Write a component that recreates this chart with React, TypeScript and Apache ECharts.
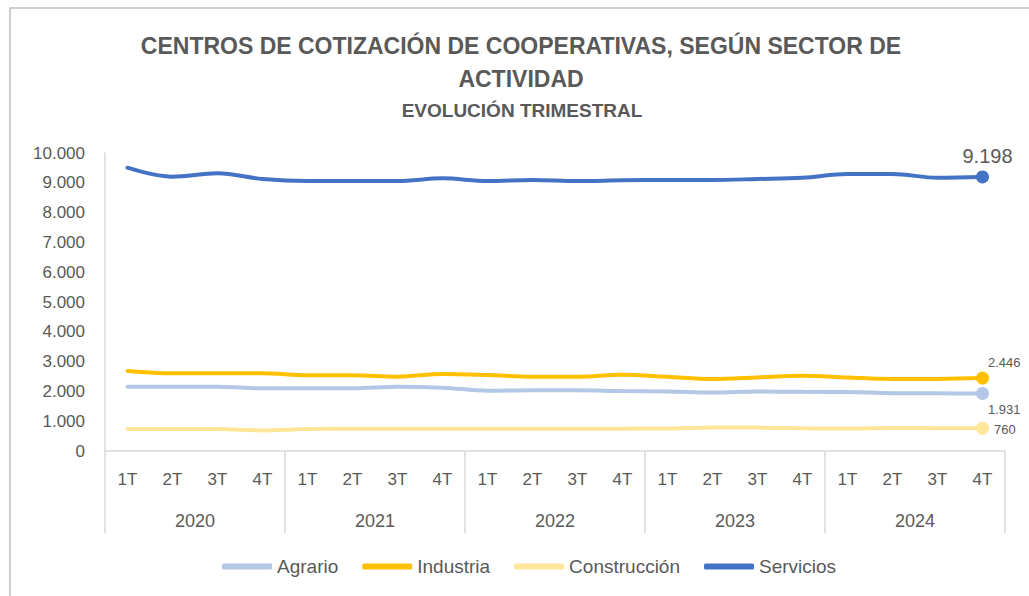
import React, { useEffect, useRef } from "react";
import * as echarts from "echarts";

const quarters = ["1T", "2T", "3T", "4T", "1T", "2T", "3T", "4T", "1T", "2T", "3T", "4T", "1T", "2T", "3T", "4T", "1T", "2T", "3T", "4T"];
const years = ["2020", "2021", "2022", "2023", "2024"];
const yTicks = { min: 0, max: 10000, interval: 1000 };

const agrario = [2158, 2158, 2158, 2103, 2103, 2103, 2158, 2125, 2025, 2040, 2040, 2010, 1995, 1960, 2000, 1985, 1980, 1940, 1935, 1931];
const industria = [2685, 2607, 2607, 2607, 2540, 2540, 2494, 2584, 2550, 2494, 2494, 2560, 2490, 2416, 2470, 2528, 2470, 2420, 2420, 2446];
const construccion = [740, 740, 735, 690, 740, 745, 745, 745, 745, 745, 745, 750, 755, 790, 785, 760, 755, 775, 765, 760];
const servicios = [9507, 9205, 9318, 9128, 9060, 9060, 9060, 9150, 9060, 9094, 9060, 9083, 9094, 9094, 9128, 9170, 9295, 9295, 9170, 9198];

const FONT = "'Liberation Sans', Arial, sans-serif";
const TXT = "#595959";

const fmt = (v: number) => {
  const s = String(Math.round(v));
  return s.replace(/\B(?=(\d{3})+(?!\d))/g, ".");
};

export default function App() {
  const ref = useRef<HTMLDivElement>(null);
  useEffect(() => {
    document.body.style.margin = "0";
    const chart = echarts.init(ref.current!, null, { renderer: "svg" });
    const last = quarters.length - 1;
    const mk = (
      name: string,
      values: number[],
      color: string,
      label: any
    ) => ({
      name,
      type: "line",
      xAxisIndex: 0,
      smooth: 0.35,
      color,
      lineStyle: { width: 4, color, cap: "round" },
      symbol: "circle",
      symbolSize: (_v: any, p: any) => (p.dataIndex === last ? 13 : 0),
      showSymbol: true,
      itemStyle: { color },
      data: values.map((v, i) =>
        i === last ? { value: v, label: { show: true, ...label } } : v
      ),
      label: { show: false },
      emphasis: { disabled: true },
      z: 2,
    });
    chart.setOption({
      animation: false,
      backgroundColor: "#ffffff",
      textStyle: { fontFamily: FONT },
      graphic: [
        {
          type: "rect",
          shape: { x: 10, y: 8, width: 1100, height: 700 },
          style: { fill: "none", stroke: "#bfbfbf", lineWidth: 1.5 },
          silent: true,
        },
      ],
      title: [
        {
          text: "CENTROS DE COTIZACIÓN DE COOPERATIVAS, SEGÚN SECTOR DE\nACTIVIDAD",
          left: 516,
          top: 24,
          textAlign: "center",
          textStyle: {
            fontFamily: FONT,
            fontSize: 23,
            fontWeight: "bold",
            color: TXT,
            lineHeight: 33,
          },
        },
        {
          text: "EVOLUCIÓN TRIMESTRAL",
          left: 517,
          top: 96,
          textAlign: "center",
          textStyle: {
            fontFamily: FONT,
            fontSize: 19,
            fontWeight: "bold",
            color: TXT,
          },
        },
      ],
      legend: {
        left: 217,
        top: 552,
        icon: "roundRect",
        itemWidth: 50,
        itemHeight: 6,
        itemGap: 24,
        textStyle: { fontFamily: FONT, fontSize: 19, color: TXT },
        data: ["Agrario", "Industria", "Construcción", "Servicios"],
      },
      grid: { left: 105, right: 24, top: 153, bottom: 145, containLabel: false },
      xAxis: [
        {
          type: "category",
          data: quarters,
          position: "bottom",
          boundaryGap: true,
          axisLine: { lineStyle: { color: "#d9d9d9", width: 1.5 } },
          axisTick: { show: false },
          axisLabel: { color: TXT, fontSize: 17, margin: 20, interval: 0, fontFamily: FONT },
        },
        {
          type: "category",
          data: years,
          position: "bottom",
          boundaryGap: true,
          axisLine: { show: false },
          axisTick: { show: true, interval: 0, length: 82, lineStyle: { color: "#d9d9d9", width: 1.5 } },
          axisLabel: { color: TXT, fontSize: 18, margin: 61, interval: 0, fontFamily: FONT },
        },
      ],
      yAxis: {
        type: "value",
        min: yTicks.min,
        max: yTicks.max,
        interval: yTicks.interval,
        axisLine: { show: true, lineStyle: { color: "#d9d9d9", width: 1.5 } },
        axisTick: { show: false },
        splitLine: { show: false },
        axisLabel: { color: TXT, fontSize: 17, margin: 20, formatter: (v: number) => fmt(v), fontFamily: FONT },
      },
      series: [
        mk("Agrario", agrario, "#b4c7e7", {
          position: "right",
          offset: [-6, 16],
          fontSize: 13,
          color: TXT,
          formatter: (p: any) => fmt(p.value),
        }),
        mk("Industria", industria, "#ffc000", {
          position: "right",
          offset: [-6, -16],
          fontSize: 13,
          color: TXT,
          formatter: (p: any) => fmt(p.value),
        }),
        mk("Construcción", construccion, "#ffe699", {
          position: "right",
          offset: [0, 1],
          fontSize: 13,
          color: TXT,
          formatter: (p: any) => fmt(p.value),
        }),
        mk("Servicios", servicios, "#4472c4", {
          position: "top",
          distance: 4,
          offset: [5, 0],
          fontSize: 20,
          color: TXT,
          formatter: (p: any) => fmt(p.value),
        }),
      ],
    });
    return () => chart.dispose();
  }, []);
  return (
    <div
      ref={ref}
      style={{ position: "absolute", left: 0, top: 0, width: 1029, height: 596 }}
    />
  );
}
